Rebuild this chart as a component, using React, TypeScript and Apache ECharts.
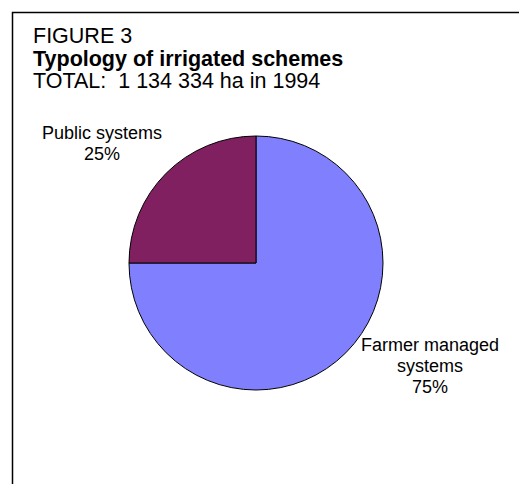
import React, { useEffect, useRef } from "react";
import * as echarts from "echarts";

const titleLines = ["FIGURE 3", "Typology of irrigated schemes", "TOTAL:  1 134 334 ha in 1994"];
const categories = ["Farmer managed systems", "Public systems"];
const shares = [75, 25];
const colors = ["#8080FF", "#802060"];

const FONT = '"Liberation Sans", Arial, sans-serif';

export default function App() {
  const ref = useRef<HTMLDivElement>(null);
  useEffect(() => {
    if (!ref.current) return;
    const chart = echarts.init(ref.current, null, { renderer: "svg" });
    const labelPos = [
      { x: 430, y: 366 },
      { x: 102, y: 143 },
    ];
    chart.setOption({
      animation: false,
      backgroundColor: "#ffffff",
      title: titleLines.map((t, i) => ({
        text: t,
        left: 33,
        top: 25 + i * 22.5,
        padding: 0,
        textStyle: {
          fontFamily: FONT,
          fontSize: 21.5,
          fontWeight: i === 1 ? "bold" : "normal",
          color: "#000",
        },
      })),
      graphic: [
        {
          type: "rect",
          shape: { x: 12.5, y: 12.5, width: 600, height: 600 },
          style: { fill: "none", stroke: "#000", lineWidth: 1.5 },
          silent: true,
        },
      ],
      series: [
        {
          type: "pie",
          center: [256, 263],
          radius: 127,
          startAngle: 90,
          clockwise: true,
          data: categories.map((c, i) => ({
            name: c,
            value: shares[i],
            itemStyle: { color: colors[i] },
          })),
          itemStyle: { borderColor: "#000", borderWidth: 1 },
          label: {
            show: true,
            position: "inside",
            overflow: "none",
            fontFamily: FONT,
            fontSize: 18,
            color: "#000",
            lineHeight: 21,
            align: "center",
            formatter: (p: any) => `${String(p.name).replace("managed ", "managed\n")}\n${Math.round(p.percent)}%`,
          },
          labelLine: { show: false },
          labelLayout: (params: any) => ({
            x: labelPos[params.dataIndex].x,
            y: labelPos[params.dataIndex].y,
            align: "center",
            verticalAlign: "middle",
          }),
          emphasis: { disabled: true },
        },
      ],
    });
    return () => chart.dispose();
  }, []);
  return (
    <div
      ref={ref}
      style={{ position: "fixed", left: 0, top: 0, width: 519, height: 484 }}
    />
  );
}
